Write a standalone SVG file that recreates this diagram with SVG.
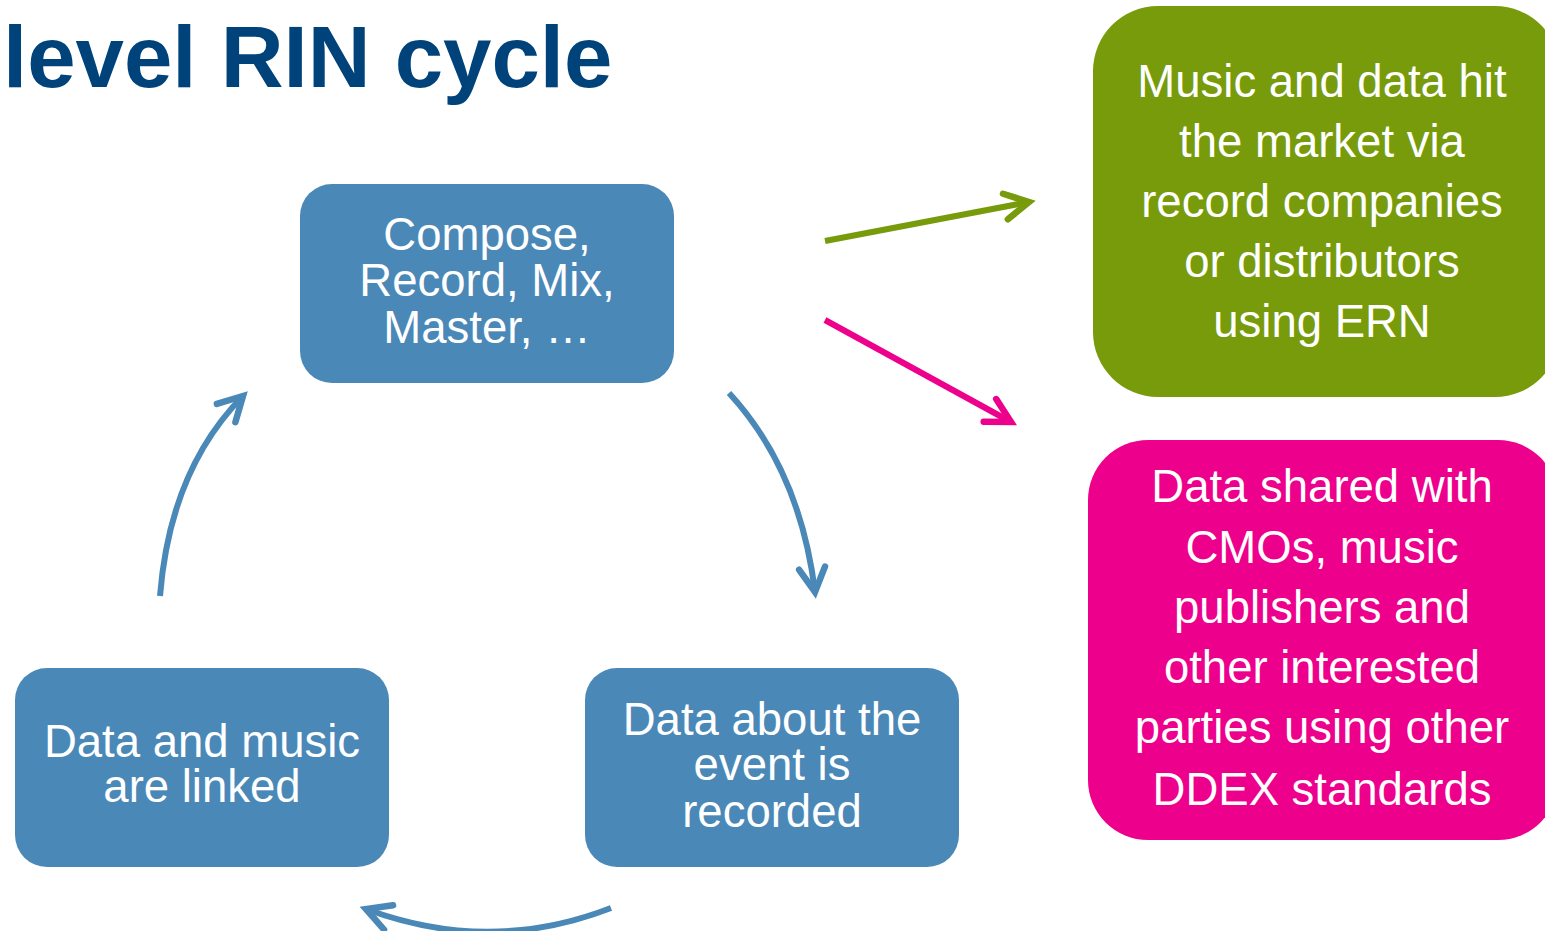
<svg xmlns="http://www.w3.org/2000/svg" width="1545" height="931" viewBox="0 0 1545 931">
<style>
.box{fill:#4A88B8}
.t{font-family:"Liberation Sans",Arial,sans-serif;font-size:45.5px;fill:#ffffff;text-anchor:middle}
.title{font-family:"Liberation Sans",Arial,sans-serif;font-size:87px;font-weight:bold;fill:#00437B}
.c{fill:none;stroke-width:6}
</style>
<defs>
<marker id="mb" markerUnits="userSpaceOnUse" markerWidth="40" markerHeight="40" viewBox="-30 -20 40 40" refX="0" refY="0" orient="auto">
<path d="M-24,-13 L0,0 L-24,13" fill="none" stroke="#4A88B8" stroke-width="6.5" stroke-linecap="round" stroke-linejoin="miter"/>
</marker>
<marker id="mg" markerUnits="userSpaceOnUse" markerWidth="40" markerHeight="40" viewBox="-30 -20 40 40" refX="0" refY="0" orient="auto">
<path d="M-24,-13 L0,0 L-24,13" fill="none" stroke="#779B0A" stroke-width="6.5" stroke-linecap="round" stroke-linejoin="miter"/>
</marker>
<marker id="mp" markerUnits="userSpaceOnUse" markerWidth="40" markerHeight="40" viewBox="-30 -20 40 40" refX="0" refY="0" orient="auto">
<path d="M-24,-13 L0,0 L-24,13" fill="none" stroke="#EC008C" stroke-width="6.5" stroke-linecap="round" stroke-linejoin="miter"/>
</marker>
</defs>
<rect width="1545" height="931" fill="#ffffff"/>
<text class="title" x="3" y="87">level RIN cycle</text>

<g id="compose">
<rect class="box" x="300" y="184" width="374" height="199" rx="32"/>
<text class="t" x="487" y="250">Compose,</text>
<text class="t" x="487" y="296">Record, Mix,</text>
<text class="t" x="487" y="343">Master, …</text>
</g>
<g id="recorded">
<rect class="box" x="585" y="668" width="374" height="199" rx="32"/>
<text class="t" x="772" y="735">Data about the</text>
<text class="t" x="772" y="780">event is</text>
<text class="t" x="772" y="827">recorded</text>
</g>
<g id="linked">
<rect class="box" x="15" y="668" width="374" height="199" rx="32"/>
<text class="t" x="202" y="757">Data and music</text>
<text class="t" x="202" y="802">are linked</text>
</g>
<g id="market">
<rect x="1093" y="6" width="467" height="391" rx="65" fill="#779B0A"/>
<text class="t" x="1322" y="97">Music and data hit</text>
<text class="t" x="1322" y="157">the market via</text>
<text class="t" x="1322" y="217">record companies</text>
<text class="t" x="1322" y="277">or distributors</text>
<text class="t" x="1322" y="337">using ERN</text>
</g>
<g id="shared">
<rect x="1088" y="440" width="470" height="400" rx="60" fill="#EC008C"/>
<text class="t" x="1322" y="502">Data shared with</text>
<text class="t" x="1322" y="563">CMOs, music</text>
<text class="t" x="1322" y="623">publishers and</text>
<text class="t" x="1322" y="683">other interested</text>
<text class="t" x="1322" y="743">parties using other</text>
<text class="t" x="1322" y="805">DDEX standards</text>
</g>

<g id="connectors">
<path class="c" stroke="#779B0A" d="M825,241 L1029,202" marker-end="url(#mg)"/>
<path class="c" stroke="#EC008C" d="M825,320 L1011,422" marker-end="url(#mp)"/>
<path class="c" stroke="#4A88B8" d="M729,393 Q800,470 815,592" marker-end="url(#mb)"/>
<path class="c" stroke="#4A88B8" d="M611,908 Q490,955 366,909" marker-end="url(#mb)"/>
<path class="c" stroke="#4A88B8" d="M160,596 Q170,470 243,396" marker-end="url(#mb)"/>
</g>
</svg>
